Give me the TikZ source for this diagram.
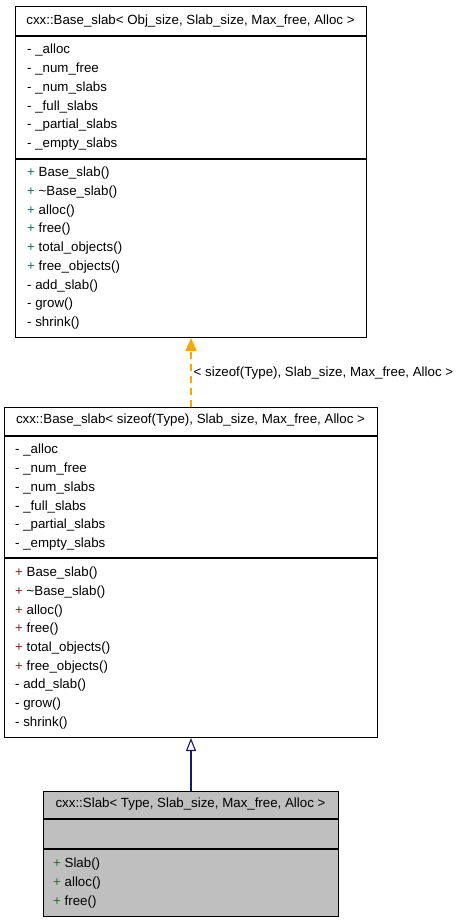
\documentclass[tikz,border=0pt]{standalone}
\usepackage{fontspec}
\setmainfont{Liberation Sans}
\usetikzlibrary{arrows.meta, positioning}
\definecolor{umlorange}{HTML}{FFA500}
\definecolor{umlnavy}{HTML}{191970}
\definecolor{umlgray}{HTML}{BFBFBF}
\definecolor{pubteal}{HTML}{1F6A6A}
\definecolor{pubred}{HTML}{8A2525}
\definecolor{pubgreen}{HTML}{2E6B2E}
\tikzset{
  % riquadro di una classe
  classbox/.style={draw=black, line width=1pt, inner sep=0pt, anchor=north west},
  leafbox/.style={classbox, fill=umlgray},
  % linee tra nome, attributi e metodi
  sepline/.style={line width=1.6pt, black},
  % testi
  classtitle/.style={font=\fontsize{13.3}{19}\selectfont, anchor=mid, inner sep=0pt, yshift=-1pt},
  member/.style={font=\fontsize{13.3}{19}\selectfont, anchor=mid west, inner sep=0pt, yshift=-2pt},
  tmplbl/.style={font=\fontsize{13.3}{19}\selectfont, text=black, anchor=mid west, inner sep=0pt,
    xshift=2pt, yshift=-1pt},
  % frecce
  realize/.style={color=umlorange, line width=1.4pt, dash pattern=on 7pt off 5pt,
    -{Triangle[length=13pt, width=11pt]}},
  inherit/.style={color=umlnavy, line width=1.1pt,
    -{Triangle[open, length=13pt, width=10pt]}},
}

\begin{document}
\begin{tikzpicture}[x=1pt, y=-1pt]
  \useasboundingbox (0,0) rectangle (457,923);
  % classe base generica
  \node[classbox, minimum width=351pt, minimum height=331pt] (base) at (15,6) {};
  \draw[sepline] (15,36) -- (366,36);
  \draw[sepline] (15,159) -- (366,159);
  \node[classtitle] (basettl) at (190.5,21) {cxx::Base\_slab< Obj\_size, Slab\_size, Max\_free, Alloc >};
  \foreach \m [count=\i] in {\_alloc, \_num\_free, \_num\_slabs, \_full\_slabs, \_partial\_slabs, \_empty\_slabs}
    \node[member] (basea\i) at (27,{49+18.8*(\i-1)}) {- \m};
  \foreach \m [count=\i] in {Base\_slab(), \textasciitilde Base\_slab(), alloc(), free(), total\_objects(), free\_objects()}
    \node[member] (basem\i) at (27,{172+18.75*(\i-1)}) {\textcolor{pubteal}{+} \m};
  \foreach \m [count=\i] in {add\_slab(), grow(), shrink()}
    \node[member] (basep\i) at (27,{284.5+18.75*(\i-1)}) {- \m};

  % istanza con sizeof(Type)
  \node[classbox, minimum width=373pt, minimum height=330pt] (mid) at (4,407) {};
  \draw[sepline] (4,436) -- (377,436);
  \draw[sepline] (4,558) -- (377,558);
  \node[classtitle] (midttl) at (190.5,420) {cxx::Base\_slab< sizeof(Type), Slab\_size, Max\_free, Alloc >};
  \foreach \m [count=\i] in {\_alloc, \_num\_free, \_num\_slabs, \_full\_slabs, \_partial\_slabs, \_empty\_slabs}
    \node[member] (mida\i) at (15,{449+18.8*(\i-1)}) {- \m};
  \foreach \m [count=\i] in {Base\_slab(), \textasciitilde Base\_slab(), alloc(), free(), total\_objects(), free\_objects()}
    \node[member] (midm\i) at (15,{572+18.75*(\i-1)}) {\textcolor{pubred}{+} \m};
  \foreach \m [count=\i] in {add\_slab(), grow(), shrink()}
    \node[member] (midp\i) at (15,{684+18.75*(\i-1)}) {- \m};

  % classe Slab
  \node[leafbox, minimum width=295pt, minimum height=125pt] (slab) at (43,791) {};
  \draw[sepline] (43,819) -- (338,819);
  \draw[sepline] (43,849) -- (338,849);
  \node[classtitle] (slabttl) at (190.5,804) {cxx::Slab< Type, Slab\_size, Max\_free, Alloc >};
  \foreach \m [count=\i] in {Slab(), alloc(), free()}
    \node[member] (slabm\i) at (53,{863+19*(\i-1)}) {\textcolor{pubgreen}{+} \m};

  % collegamenti
  \draw[realize] (mid.north) -- node[tmplbl] (bindlbl) {< sizeof(Type), Slab\_size, Max\_free, Alloc >} (base.south);
  \draw[inherit] (slab.north) -- (mid.south);
\end{tikzpicture}
\end{document}
